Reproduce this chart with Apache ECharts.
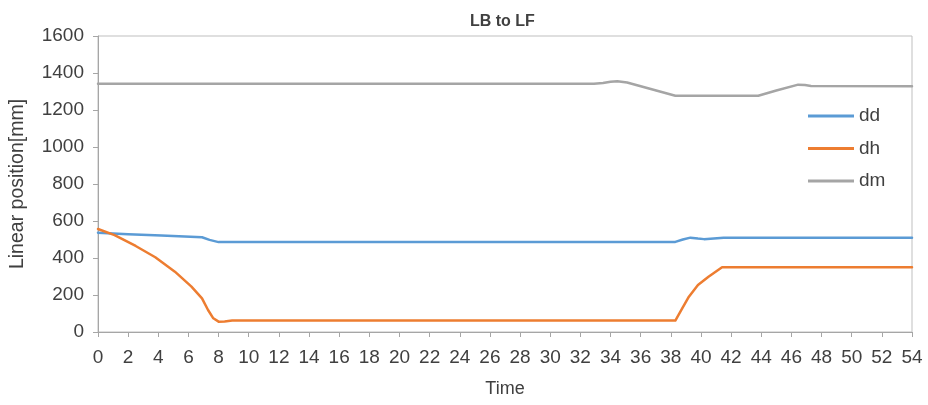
<!DOCTYPE html>
<html>
<head>
<meta charset="utf-8">
<script src="https://cdn.jsdelivr.net/npm/echarts@6/dist/echarts.min.js"></script>
<style>
  html, body { margin: 0; padding: 0; background: #fff; }
  #chart { width: 928px; height: 405px; }
</style>
</head>
<body>
<div id="chart"></div>
<script>
// Linear position of the three axes during the LB -> LF move
const ddTime  = [0, 2, 4.2, 6.9, 7.4, 8, 9, 38.3, 38.8, 39.3, 39.8, 40.2, 41.5, 54];
const ddValue = [537, 528, 521, 512, 498, 486, 486, 487, 500, 510, 505, 502, 510, 510];

const dhTime  = [0, 1.1, 2.5, 3.8, 5.1, 6.2, 6.9, 7.3, 7.65, 8.0, 8.4, 8.9, 38.3, 38.7, 39.2, 39.8, 40.5, 41.4, 54];
const dhValue = [557, 524, 465, 404, 326, 245, 182, 119, 74, 56, 57, 62, 62, 119, 191, 254, 299, 350, 350];

const dmTime  = [0, 32.9, 33.5, 34.0, 34.45, 35.1, 38.3, 43.8, 45.0, 46.45, 46.9, 47.3, 54];
const dmValue = [1342, 1342, 1346, 1353, 1356, 1349, 1277, 1277, 1305, 1337, 1335, 1330, 1328];

const seriesNames = ['dd', 'dh', 'dm'];
const seriesColors = ['#5B9BD5', '#ED7D31', '#A5A5A5'];

const pairs = (ts, vs) => ts.map((t, i) => [t, vs[i]]);
const seriesData = [pairs(ddTime, ddValue), pairs(dhTime, dhValue), pairs(dmTime, dmValue)];

const FONT = 'Liberation Sans';
const TEXT = '#404040';

const chart = echarts.init(document.getElementById('chart'), null, { renderer: 'canvas' });
chart.setOption({
  animation: false,
  backgroundColor: '#ffffff',
  title: {
    text: 'LB to LF',
    left: 465,
    top: 9,
    textStyle: { fontFamily: FONT, fontSize: 16, fontWeight: 'bold', color: TEXT }
  },
  legend: {
    orient: 'vertical',
    left: 803,
    top: 101,
    itemWidth: 46,
    itemHeight: 3,
    itemGap: 12.5,
    icon: 'rect',
    data: seriesNames,
    textStyle: { fontFamily: FONT, fontSize: 19, color: TEXT, lineHeight: 20 }
  },
  grid: {
    left: 98, right: 16, top: 36, bottom: 73,
    show: true,
    borderColor: '#BFBFBF',
    borderWidth: 1
  },
  xAxis: {
    type: 'value',
    min: 0, max: 54, interval: 2,
    name: 'Time',
    nameLocation: 'middle',
    nameGap: 48,
    nameTextStyle: { fontFamily: FONT, fontSize: 18, color: TEXT },
    axisLine: { lineStyle: { color: '#A6A6A6', width: 1 } },
    axisTick: { show: true, length: 5, lineStyle: { color: '#A6A6A6' } },
    axisLabel: { fontFamily: FONT, fontSize: 19, color: TEXT, margin: 16 },
    splitLine: { show: false }
  },
  yAxis: {
    type: 'value',
    min: 0, max: 1600, interval: 200,
    name: 'Linear position[mm]',
    nameLocation: 'middle',
    nameGap: 70,
    nameTextStyle: { fontFamily: FONT, fontSize: 19.5, color: TEXT },
    axisLine: { show: true, lineStyle: { color: '#A6A6A6', width: 1 } },
    axisTick: { show: true, length: 5, lineStyle: { color: '#A6A6A6' } },
    axisLabel: { fontFamily: FONT, fontSize: 19, color: TEXT, margin: 14, formatter: v => String(v) },
    splitLine: { show: false }
  },
  series: seriesNames.map((name, i) => ({
    name: name,
    type: 'line',
    data: seriesData[i],
    showSymbol: false,
    smooth: false,
    color: seriesColors[i],
    lineStyle: { color: seriesColors[i], width: 2.5, join: 'round', cap: 'round' }
  }))
});
</script>
</body>
</html>
